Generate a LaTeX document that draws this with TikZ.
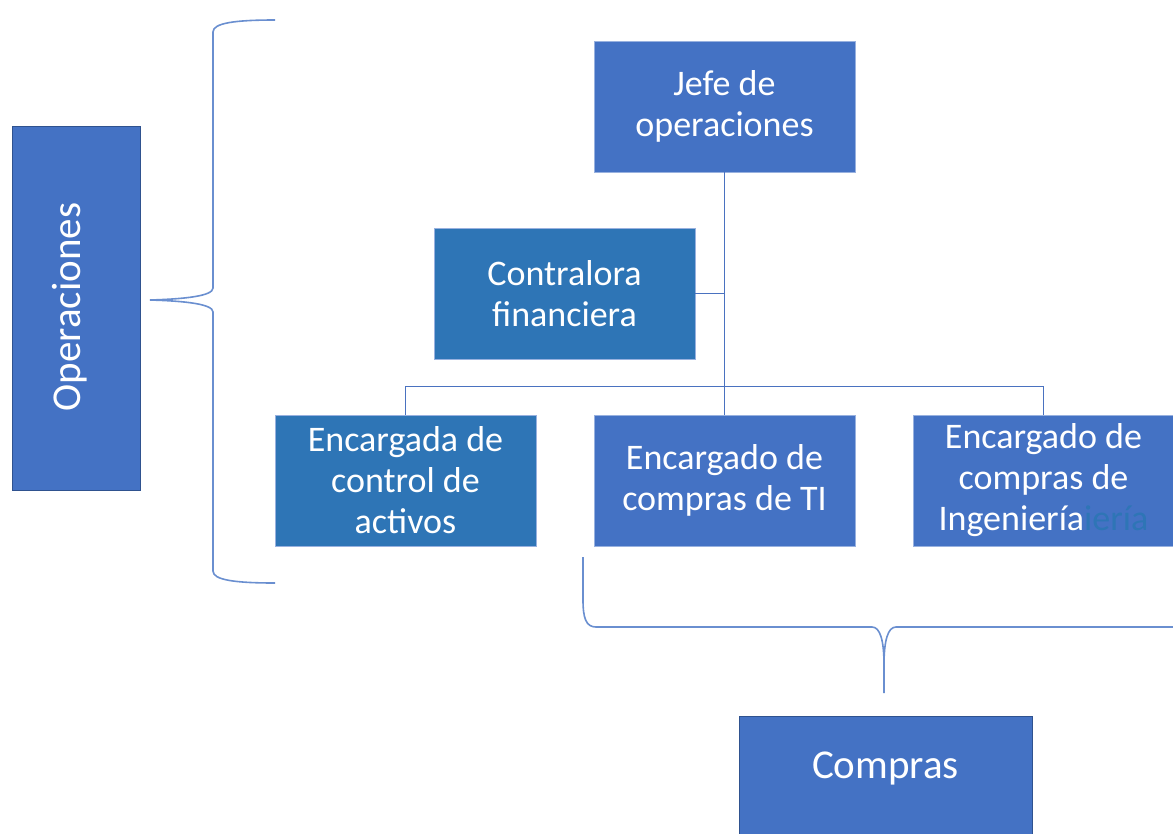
\documentclass[tikz,border=0pt]{standalone}
\usepackage{fontspec}
\setmainfont{Carlito}
\definecolor{blueA}{HTML}{4472C4}
\definecolor{blueB}{HTML}{2E75B6}
\definecolor{edgeA}{HTML}{2F528F}
\definecolor{lineA}{HTML}{4A72C0}
\definecolor{braceA}{HTML}{6A8FD0}
\begin{document}
\begin{tikzpicture}[x=1pt,y=-1pt,
  box/.style={rectangle, inner sep=0pt, align=center, text=white,
    font=\fontsize{36}{41}\selectfont, minimum width=261, minimum height=131,
    draw=blueA!55!white, line width=0.6pt},
  boxA/.style={box, fill=blueA},
  boxB/.style={box, fill=blueB},
  conn/.style={draw=lineA, line width=1.3pt},
  bracestyle/.style={draw=braceA, line width=1.6pt},
  biglbl/.style={inner sep=0pt, text=white, font=\fontsize{41}{46}\selectfont}
]
\useasboundingbox (0,0) rectangle (1173,833);

% Operaciones
\node[rectangle, fill=blueA, draw=edgeA, line width=0.8pt, minimum width=128, minimum height=364, inner sep=0pt] (ops) at (76,308) {};
\node[biglbl, rotate=90] (opslbl) at (70,307) {Operaciones};

% boxes
\node[boxA] (jefe) at (724.5,106.5) {Jefe de\\operaciones};
\node[boxB] (contra) at (564.5,293.5) {Contralora\\financiera};
\node[boxB] (activos) at (405.5,480.5) {Encargada de\\control de\\activos};
\node[boxA] (ti) at (724.5,480.5) {Encargado de\\compras de TI};
\node[boxA] (ing) at (1043.5,480.5) {Encargado de\\compras de\\Ingenier\'ia{\color{blueB}ier\'ia}};

% Compras
\path[fill=blueA, draw=edgeA, line width=0.8pt] (739,716) rectangle (1032,860);
\node[biglbl] (compras) at (885.5,768) {Compras};

% connectors
\draw[conn] (jefe.south) -- (ti.north);
\draw[conn] (contra.east) -- (contra.east -| jefe.south);
\draw[conn] (activos.north) -- ++(0,-28) -| (ing.north);

% left brace
\draw[bracestyle] (275,20) .. controls (235,20) and (213,23) .. (213,32)
  -- (213,288) .. controls (213,296) and (185,299) .. (150,300)
  .. controls (185,301) and (213,304) .. (213,312)
  -- (213,571) .. controls (213,580) and (235,583) .. (275,583);

% bottom brace
\draw[bracestyle] (583,557) -- (583,600) .. controls (583,618) and (586,627) .. (596,627)
  -- (872,627) .. controls (880,627) and (884,640) .. (884,665) -- (884,693);
\draw[bracestyle] (884,665) .. controls (884,640) and (888,627) .. (896,627) -- (1175,627);
\end{tikzpicture}
\end{document}
